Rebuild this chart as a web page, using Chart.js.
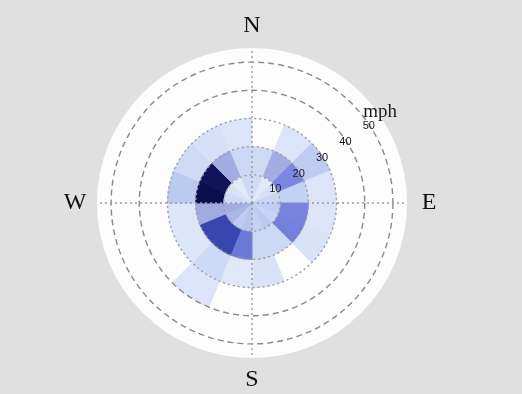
<!DOCTYPE html>
<html>
<head>
<meta charset="utf-8">
<script src="https://cdn.jsdelivr.net/npm/chart.js@4/dist/chart.umd.min.js"></script>
<style>
  html, body { margin: 0; padding: 0; background: #e0e0e0; }
  #wrap { width: 522px; height: 394px; position: relative; }
</style>
</head>
<body>
<div id="wrap"><canvas id="windRose"></canvas></div>
<script>
// sectors start at N and go clockwise, 22.5 deg each
const directions = ["N", "NNE", "NE", "ENE", "E", "ESE", "SE", "SSE",
  "S", "SSW", "SW", "WSW", "W", "WNW", "NW", "NNW"];
const speedBins = [10, 20, 30, 40];
const radialTicks = [10, 20, 30, 40, 50];
const compassLabels = ["N", "E", "S", "W"];

// frequency (%) per sector for each speed bin, null = no data
const freq0to10 = [1.2, 0.2, 0.8, 1.7, 2.2, 1.8, 2.4, 2.0, 2.6, 2.3, 3.4, 3.9, 1.3, 0.7, 0.3, 1.4];
const freq10to20 = [1.3, 3.9, 6.0, 2.0, 6.1, 6.2, 1.5, 1.5, 6.4, 8.0, 8.0, 4.0, 10, 9.8, 3.9, 1.5];
const freq20to30 = [null, 0.6, 2.3, 0.6, 0.6, 0.7, null, 0.7, 0.4, 1.4, 0.5, 0.5, 2.4, 1.3, 0.9, 0.6];
const freq30to40 = [null, null, null, null, null, null, null, null, null, 0.6, null, null, null, null, null, null];

const colorStops = [
  [0, "#e6ecfa"],
  [2, "#c2d2f3"],
  [4, "#a0abe0"],
  [6, "#7a86e0"],
  [8, "#3a46b0"],
  [10, "#0a0f4e"],
];

const hexToRgb = (hex) => [1, 3, 5].map((i) => parseInt(hex.slice(i, i + 2), 16));

const freqColor = (v) => {
  if (v == null) return "rgba(0,0,0,0)";
  for (let i = 1; i < colorStops.length; i++) {
    const [v1, c1] = colorStops[i];
    const [v0, c0] = colorStops[i - 1];
    if (v <= v1 || i === colorStops.length - 1) {
      const t = Math.max(0, Math.min(1, (v - v0) / (v1 - v0)));
      const a = hexToRgb(c0);
      const b = hexToRgb(c1);
      const rgb = a.map((x, k) => Math.round(x + (b[k] - x) * t));
      return `rgb(${rgb.join(",")})`;
    }
  }
};

const rings = [freq0to10, freq10to20, freq20to30, freq30to40];

// dataset 0 is drawn last, so inner bins sit on top of outer ones
const datasets = rings.map((freqs, k) => ({
  label: `${k * 10}-${speedBins[k]} mph`,
  data: freqs.map((v) => (v == null ? 0 : speedBins[k])),
  backgroundColor: freqs.map(freqColor),
  borderColor: freqs.map(freqColor),
  borderWidth: 0.8,
}));

const roseDecor = {
  id: "roseDecor",
  beforeDraw: (chart) => {
    const r = chart.scales.r;
    const ctx = chart.ctx;
    ctx.save();
    ctx.fillStyle = "#fdfdfd";
    ctx.beginPath();
    ctx.arc(r.xCenter, r.yCenter, r.drawingArea, 0, Math.PI * 2);
    ctx.fill();
    ctx.restore();
  },
  afterDraw: (chart) => {
    const r = chart.scales.r;
    const ctx = chart.ctx;
    const tickAngle = (56 * Math.PI) / 180;
    ctx.save();
    ctx.textAlign = "center";
    ctx.textBaseline = "middle";

    ctx.fillStyle = "#1a1a1a";
    ctx.font = "11px 'Liberation Sans', Arial, sans-serif";
    radialTicks.forEach((v) => {
      const p = r.getPointPosition(0, r.getDistanceFromCenterForValue(v), tickAngle);
      ctx.fillText(String(v), p.x, p.y + 2);
    });

    ctx.font = "19px 'Liberation Serif', 'Times New Roman', serif";
    const m = r.getPointPosition(0, r.drawingArea + 5, (55 * Math.PI) / 180);
    ctx.fillText("mph", m.x - 3, m.y + 1);

    ctx.fillStyle = "#111";
    ctx.font = "24px 'Liberation Serif', 'Times New Roman', serif";
    compassLabels.forEach((label, i) => {
      const p = r.getPointPosition(i * 4, r.drawingArea + 22);
      ctx.fillText(label, p.x, p.y);
    });
    ctx.restore();
  },
};

new Chart(document.getElementById("windRose"), {
  type: "polarArea",
  data: {
    labels: directions,
    datasets: datasets,
  },
  options: {
    responsive: true,
    maintainAspectRatio: false,
    animation: false,
    layout: {
      padding: { left: 97, right: 115, top: 48, bottom: 36 },
    },
    scales: {
      r: {
        min: 0,
        max: 55,
        startAngle: 0,
        ticks: {
          display: false,
          stepSize: 10,
        },
        pointLabels: { display: false },
        grid: {
          z: 1,
          circular: true,
          lineWidth: 1.4,
          color: (ctx) =>
            ctx.tick && radialTicks.includes(ctx.tick.value)
              ? ctx.tick.value >= 40 ? "#8a8a8a" : "#9c9c9c"
              : "rgba(0,0,0,0)",
        },
        border: {
          dash: (ctx) => (ctx.tick && ctx.tick.value >= 40 ? [6, 4] : [2, 3]),
        },
        angleLines: {
          display: true,
          color: (ctx) => (ctx.index % 4 === 0 ? "#9a9a9a" : "rgba(0,0,0,0)"),
          lineWidth: 1.4,
          borderDash: [2, 3],
        },
      },
    },
    plugins: {
      legend: { display: false },
      tooltip: { enabled: false },
    },
  },
  plugins: [roseDecor],
});
</script>
</body>
</html>
